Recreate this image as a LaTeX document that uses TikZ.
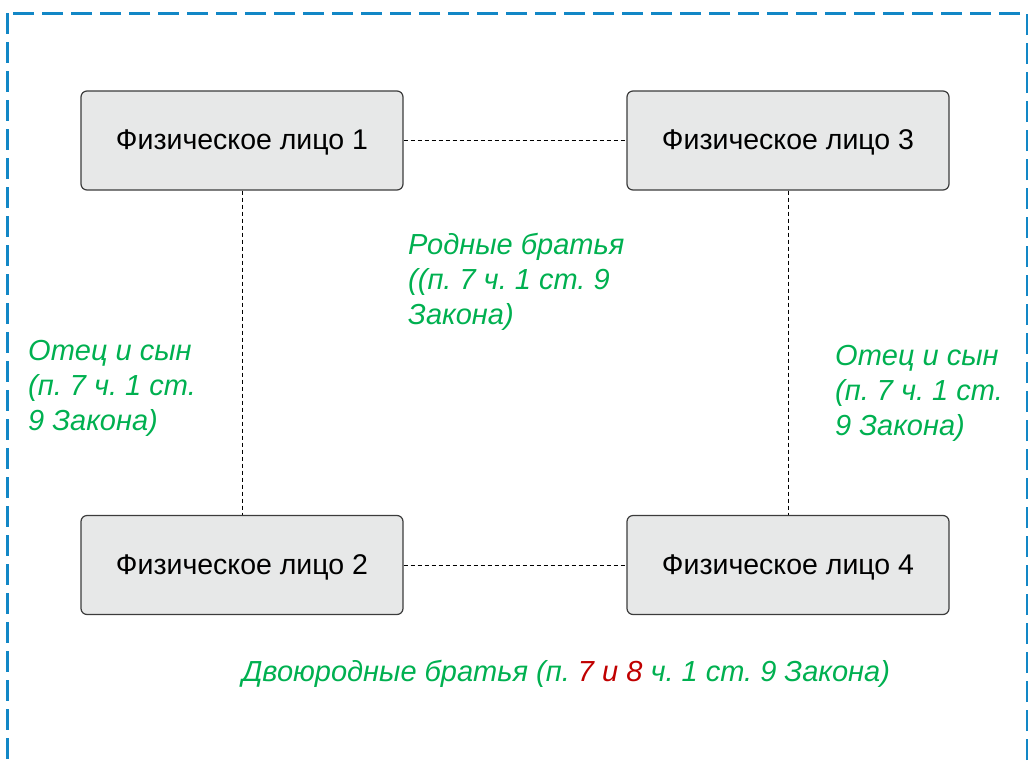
\documentclass[tikz,border=0pt]{standalone}
\usepackage{fontspec}
\setmainfont{Liberation Sans}
\frenchspacing
\definecolor{frameblue}{HTML}{1287C6}
\definecolor{boxgray}{HTML}{E7E8E8}
\definecolor{boxline}{HTML}{3C3C3C}
\definecolor{lawgreen}{HTML}{00B050}
\definecolor{lawred}{HTML}{C00000}

\begin{document}
\begin{tikzpicture}[x=1pt,y=-1pt,
    person/.style={shape=rectangle,rounded corners=6pt,draw=boxline,line width=1.2pt,
        fill=boxgray,minimum width=322pt,minimum height=99pt,
        text height=24pt,text depth=6pt,
        font=\fontsize{28.5}{34}\selectfont},
    relation/.style={anchor=north west,inner sep=0pt,align=left,text=lawgreen,
        font=\fontsize{29}{35}\selectfont\itshape},
    link/.style={draw=black,line width=0.8pt,dash pattern=on 4pt off 3pt}]
    \useasboundingbox (0,0) rectangle (1028,761);
    \clip (0,0) rectangle (1028,761);
    \draw[frameblue,line width=3pt,dash pattern=on 21pt off 8pt] (7,13) rectangle (1027,790);

    \node[person] (P1) at (242,140.5) {Физическое лицо 1};
    \node[person] (P2) at (242,565) {Физическое лицо 2};
    \node[person] (P3) at (788,140.5) {Физическое лицо 3};
    \node[person] (P4) at (788,565) {Физическое лицо 4};

    \path [link] (P1) edge node {} (P3);
    \path [link] (P1) edge node {} (P2);
    \path [link] (P3) edge node {} (P4);
    \path [link] (P2) edge node {} (P4);

    \node[relation] (brothers) at (408,233) {Родные братья\\((п. 7 ч. 1 ст. 9\\Закона)};
    \node[relation] (fatherL) at (28,340) {Отец и сын\\(п. 7 ч. 1 ст.\\9 Закона)};
    \node[relation] (fatherR) at (835,345) {Отец и сын\\(п. 7 ч. 1 ст.\\9 Закона)};
    \node[relation,anchor=base] (cousins) at (566,681) {Двоюродные братья (п. \textcolor{lawred}{7 и 8} ч. 1 ст. 9 Закона)};
\end{tikzpicture}
\end{document}
